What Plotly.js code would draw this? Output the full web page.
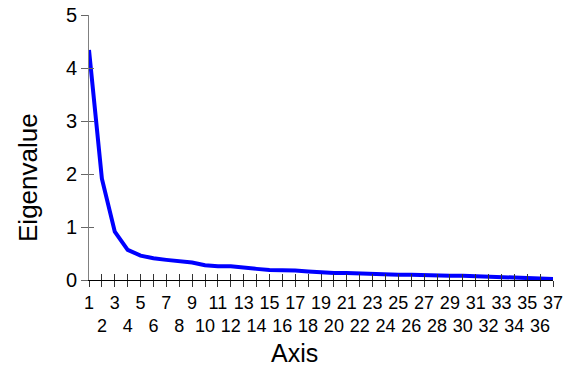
<!DOCTYPE html>
<html><head><meta charset="utf-8">
<script src="https://cdn.plot.ly/plotly-3.0.1.min.js"></script>
<style>html,body{margin:0;padding:0;background:#fff}#chart{width:564px;height:368px}</style>
</head><body><div id="chart"></div>
<script>
const axisNumbers = [1,2,3,4,5,6,7,8,9,10,11,12,13,14,15,16,17,18,19,20,21,22,23,24,25,26,27,28,29,30,31,32,33,34,35,36,37];
const eigenvalues = [4.34,1.91,0.91,0.57,0.46,0.41,0.38,0.35,0.33,0.28,0.26,0.26,0.23,0.21,0.19,0.19,0.18,0.16,0.14,0.13,0.13,0.12,0.12,0.11,0.10,0.10,0.09,0.09,0.08,0.08,0.07,0.06,0.06,0.05,0.03,0.03,0.02];
const xTickText = axisNumbers.map(n => n % 2 === 1 ? String(n) : '\u00a0<br>' + n);
const yTickVals = [0,1,2,3,4,5];
const xTitle = 'Axis';
const yTitle = 'Eigenvalue';

const font = {family: 'Liberation Sans, Arial, sans-serif', color: '#000'};

const data = [{
  x: axisNumbers, y: eigenvalues, type: 'scatter', mode: 'lines',
  line: {color: '#0000FF', width: 4}, hoverinfo: 'none'
}];

const layout = {
  width: 564, height: 368,
  margin: {l: 89, r: 11, t: 15, b: 88},
  paper_bgcolor: '#fff', plot_bgcolor: '#fff',
  showlegend: false,
  font: Object.assign({size: 19}, font),
  xaxis: {
    range: [1, 37], tickvals: axisNumbers, ticktext: xTickText, tickangle: 0,
    ticks: 'outside', ticklen: 6, tickwidth: 1, tickcolor: '#333',
    showline: true, linecolor: '#000', linewidth: 1,
    showgrid: false, zeroline: false,
    tickfont: Object.assign({size: 18}, font)
  },
  xaxis2: {
    overlaying: 'x', range: [1, 37], tickvals: axisNumbers, showticklabels: false,
    ticks: 'inside', ticklen: 6, tickwidth: 1, tickcolor: '#333',
    showgrid: false, zeroline: false, anchor: 'y'
  },
  yaxis: {
    range: [0, 5], tickvals: yTickVals,
    ticks: 'outside', ticklen: 7, tickwidth: 1, tickcolor: '#666',
    showline: true, linecolor: '#808080', linewidth: 1,
    showgrid: false, zeroline: false,
    tickfont: Object.assign({size: 20}, font)
  },
  yaxis2: {
    overlaying: 'y', range: [0, 5], tickvals: yTickVals, showticklabels: false,
    ticks: 'inside', ticklen: 5, tickwidth: 1, tickcolor: '#666',
    showgrid: false, zeroline: false, anchor: 'x'
  },
  annotations: [
    {text: xTitle, xref: 'paper', yref: 'paper', x: 0.5, xshift: -27, y: -0.275,
     xanchor: 'center', yanchor: 'middle', showarrow: false, font: Object.assign({size: 25}, font)},
    {text: yTitle, xref: 'paper', yref: 'paper', x: 0, xshift: -61, y: 0.385,
     xanchor: 'center', yanchor: 'middle', textangle: -90, showarrow: false, font: Object.assign({size: 26}, font)}
  ]
};

data.push({x: [1], y: [0], xaxis: 'x2', yaxis: 'y2', mode: 'markers', marker: {opacity: 0}, hoverinfo: 'none'});

Plotly.newPlot('chart', data, layout, {staticPlot: true});
</script></body></html>
